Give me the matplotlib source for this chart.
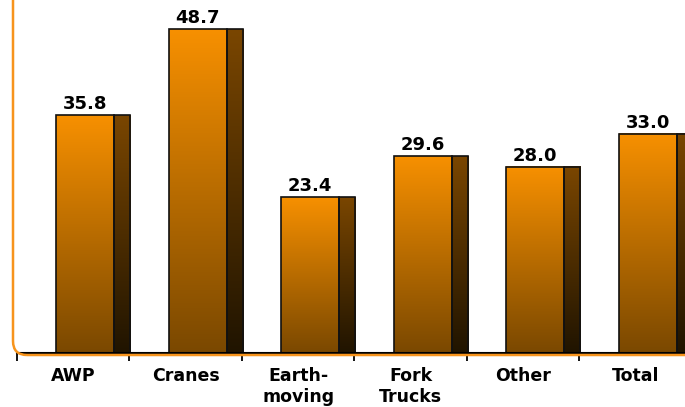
import numpy as np
import matplotlib
matplotlib.use("Agg")
import matplotlib.pyplot as plt
from matplotlib.patches import Rectangle, FancyBboxPatch
from matplotlib.colors import LinearSegmentedColormap
from matplotlib.transforms import IdentityTransform

categories = ["AWP", "Cranes", "Earth-\nmoving", "Fork\nTrucks", "Other", "Total"]
values = [35.8, 48.7, 23.4, 29.6, 28.0, 33.0]
value_labels = ["35.8", "48.7", "23.4", "29.6", "28.0", "33.0"]

W, H = 685, 407
fig = plt.figure(figsize=(W / 100, H / 100), dpi=100)
ax = fig.add_axes([17 / W, 54 / H, 1 - 17 / W, 353 / H])

front_cmap = LinearSegmentedColormap.from_list("front", ["#7A4800", "#F79000"])
side_cmap = LinearSegmentedColormap.from_list("side", ["#201400", "#7A4600"])
grad = np.linspace(0, 1, 256).reshape(-1, 1)

front_l, front_r, side_r = -0.15, 0.365, 0.508
for i, v in enumerate(values):
    ax.imshow(grad, cmap=front_cmap, origin="lower", aspect="auto",
              extent=[i + front_l, i + front_r, 0, v], zorder=2, interpolation="bilinear")
    ax.imshow(grad, cmap=side_cmap, origin="lower", aspect="auto",
              extent=[i + front_r, i + side_r, 0, v], zorder=2, interpolation="bilinear")
    ax.add_patch(Rectangle((i + front_l, 0), front_r - front_l, v, fill=False,
                           edgecolor="#111111", lw=1.2, zorder=3))
    ax.add_patch(Rectangle((i + front_r, 0), side_r - front_r, v, fill=False,
                           edgecolor="#111111", lw=1.2, zorder=3))
    ax.text(i + (front_l + front_r) / 2, v + 0.3, value_labels[i], ha="center", va="bottom",
            fontsize=13, fontweight="bold", family="DejaVu Sans", color="black", zorder=4)

ax.set_xlim(-0.5, 5.44)
ax.set_ylim(0, 53.1)
ax.set_facecolor("none")
for s in ["top", "right", "left"]:
    ax.spines[s].set_visible(False)
ax.spines["bottom"].set_color("black")
ax.spines["bottom"].set_linewidth(1.5)
ax.spines["bottom"].set_zorder(5)
ax.set_yticks([])
ax.set_xticks(np.arange(-0.5, 5.5, 1.0))
ax.set_xticklabels([])
ax.tick_params(axis="x", which="major", direction="out", length=6, width=1.3, color="black")
ax.set_xticks(np.arange(len(categories)), minor=True)
ax.set_xticklabels(categories, minor=True, fontsize=12.5, fontweight="bold",
                   family="DejaVu Sans", linespacing=1.25, va="top", color="black")
ax.tick_params(axis="x", which="minor", length=0, pad=10)

frame = FancyBboxPatch((13, H - 355), 900, 600, boxstyle="round,pad=0,rounding_size=14",
                       transform=IdentityTransform(), fill=False, edgecolor="#F7941D",
                       lw=1.8, zorder=0)
fig.patches.append(frame)

fig.savefig("out.png", dpi=100)
